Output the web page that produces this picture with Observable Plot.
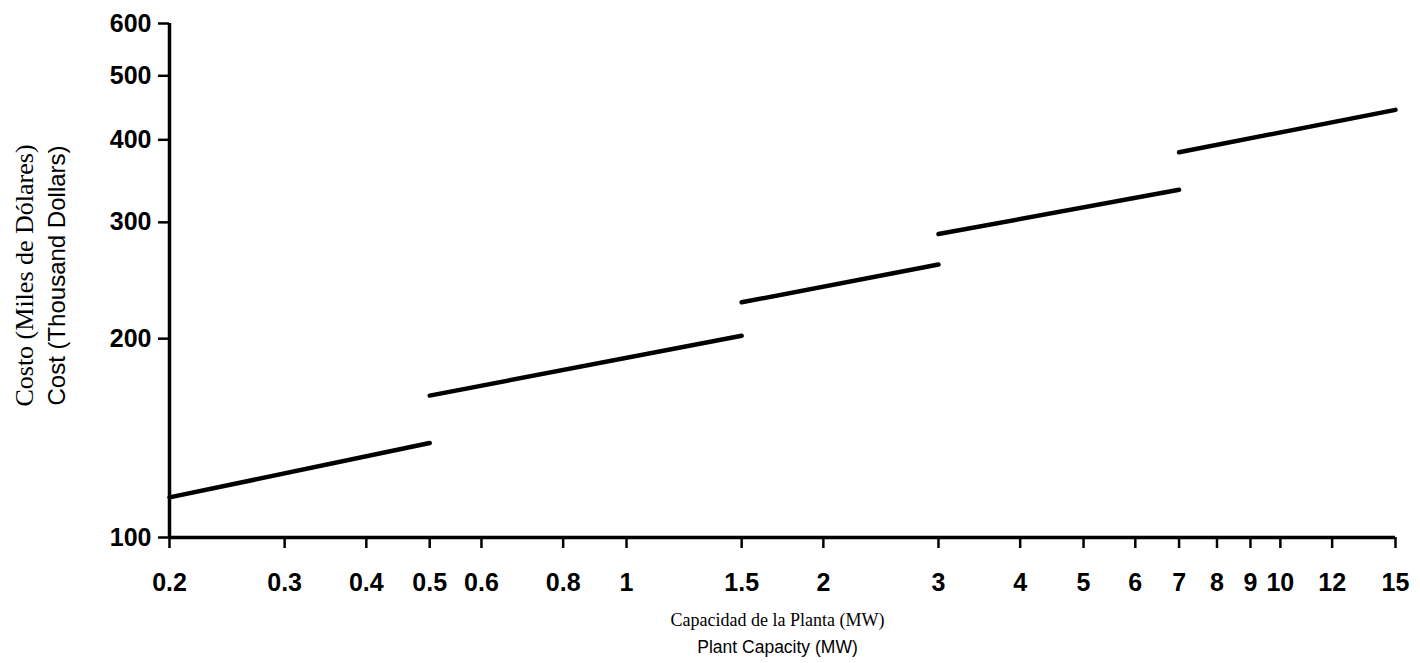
<!DOCTYPE html>
<html>
<head>
<meta charset="utf-8">
<script src="https://cdn.jsdelivr.net/npm/d3@7"></script>
<script src="https://cdn.jsdelivr.net/npm/@observablehq/plot@0.6"></script>
<style>
  html, body { margin: 0; padding: 0; background: #fff; }
</style>
</head>
<body>
<div id="chart"></div>
<script>
// Segment data (plant capacity in MW, cost in thousand dollars)
const segmentId = [1, 1, 2, 2, 3, 3, 4, 4, 5, 5];
const capacity  = [0.2, 0.5, 0.5, 1.5, 1.5, 3, 3, 7, 7, 15];
const cost      = [115, 139, 164, 202, 227, 259, 288, 336, 383, 444];

const xTicks = [0.2, 0.3, 0.4, 0.5, 0.6, 0.8, 1, 1.5, 2, 3, 4, 5, 6, 7, 8, 9, 10, 12, 15];
const yTicks = [100, 200, 300, 400, 500, 600];

const yLabelEs = "Costo (Miles de Dólares)";
const yLabelEn = "Cost (Thousand Dollars)";
const xLabelEs = "Capacidad de la Planta (MW)";
const xLabelEn = "Plant Capacity (MW)";

const data = capacity.map((c, i) => ({capacity: c, cost: cost[i], seg: segmentId[i]}));

const tickFont = "'Liberation Sans', Arial, sans-serif";
const serifFont = "'Liberation Serif', 'Times New Roman', serif";

const chart = Plot.plot({
  width: 1420,
  height: 663,
  marginLeft: 169,
  marginRight: 25,
  marginTop: 23,
  marginBottom: 126,
  style: {fontFamily: tickFont, background: "#fff", color: "#000"},
  x: {type: "log", domain: [0.2, 15]},
  y: {type: "log", domain: [100, 600]},
  marks: [
    Plot.axisX(xTicks, {
      tickSize: 11, strokeWidth: 2.5,
      tickFormat: () => "", label: null
    }),
    Plot.text(xTicks, {
      x: d => d, text: d => String(d),
      frameAnchor: "bottom", lineAnchor: "top", dy: 36,
      fontSize: 25, fontWeight: "bold", fontFamily: tickFont, fill: "black"
    }),
    Plot.axisY(yTicks, {
      tickSize: 11, tickPadding: 7, strokeWidth: 2.5,
      fontSize: 25, fontWeight: "bold", fontFamily: tickFont,
      tickFormat: d => String(d), label: null
    }),
    Plot.ruleY([100], {stroke: "black", strokeWidth: 3.5}),
    Plot.ruleX([0.2], {stroke: "black", strokeWidth: 3.5}),
    Plot.line(data, {
      x: "capacity", y: "cost", z: "seg",
      stroke: "black", strokeWidth: 4.5, strokeLinecap: "round"
    }),
    Plot.text([yLabelEs], {
      text: d => d, frameAnchor: "left", textAnchor: "middle", lineAnchor: "middle",
      dx: -145, dy: -5, rotate: -90,
      fontFamily: serifFont, fontSize: 26, fill: "black"
    }),
    Plot.text([yLabelEn], {
      text: d => d, frameAnchor: "left", textAnchor: "middle", lineAnchor: "middle",
      dx: -112, dy: -5, rotate: -90,
      fontFamily: tickFont, fontSize: 24, fill: "black"
    }),
    Plot.text([xLabelEs], {
      text: d => d, frameAnchor: "bottom", textAnchor: "middle", lineAnchor: "middle",
      dy: 83, dx: -5,
      fontFamily: serifFont, fontSize: 18, fill: "black"
    }),
    Plot.text([xLabelEn], {
      text: d => d, frameAnchor: "bottom", textAnchor: "middle", lineAnchor: "middle",
      dy: 110, dx: -5,
      fontFamily: tickFont, fontSize: 17.5, fill: "black"
    })
  ]
});

document.getElementById("chart").appendChild(chart);
</script>
</body>
</html>
